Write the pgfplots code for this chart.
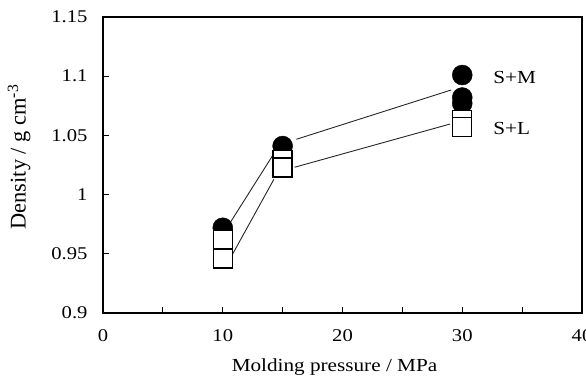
\documentclass[border=0pt]{standalone}
\usepackage{fontspec}
\setmainfont{Liberation Serif}[FakeStretch=1.15]
\newfontfamily\ylabfont{Liberation Serif}
\usepackage{pgfplots}
\pgfplotsset{compat=1.18}
\begin{document}
\begin{tikzpicture}[x=1bp,y=1bp]
\path[use as bounding box] (0,0) rectangle (586,377);
\begin{axis}[
  at={(103bp,64bp)}, anchor=south west,
  width=479bp, height=296bp, scale only axis,
  xmin=0, xmax=40, ymin=0.9, ymax=1.15,
  xtick={0,5,...,40}, xticklabels={0,,10,,20,,30,,40},
  ytick={0.9,0.95,1,1.05,1.1,1.15},
  yticklabels={0.9,0.95,1,1.05,1.1,1.15},
  tick pos=left, tick align=inside, major tick length=6bp,
  axis line style={line width=1.4bp},
  tick style={line width=1.2bp, black},
  ticklabel style={font=\fontsize{18}{20}\selectfont},
  xticklabel style={yshift=-13bp},
  yticklabel style={xshift=-12bp},
  xlabel={Molding pressure / MPa},
  xlabel style={font=\fontsize{18.5}{20}\selectfont, at={([xshift=-8bp,yshift=-58bp]rel axis cs:0.5,0)}, anchor=base},
  ylabel={Density / g cm\textsuperscript{-3}},
  ylabel style={font=\ylabfont\fontsize{22.5}{24}\selectfont, at={([xshift=-84bp,yshift=8bp]rel axis cs:0,0.5)}, anchor=center},
]
% connecting lines (segments between marker edges)
\addplot[black!85, line width=0.9bp] coordinates {(10.67,0.9771) (14.19,1.0334)};
\addplot[black!85, line width=0.9bp] coordinates {(16.14,1.0467) (29.06,1.0883)};
\addplot[black!85, line width=0.9bp] coordinates {(10.78,0.949) (14.27,1.0129)};
\addplot[black!85, line width=0.9bp] coordinates {(16.0,1.0231) (28.98,1.0596)};
% S+M
\addplot[only marks, mark=*, mark size=10bp, mark options={fill=black, draw=black}]
  coordinates {(10,0.972) (15,1.041) (30,1.101) (30,1.082) (30,1.077)};
% S+L
\addplot[only marks, mark=square*, mark size=9.5bp, mark options={fill=white, draw=black, line width=1.4bp}]
  coordinates {(10,0.962) (10,0.946) (15,1.029) (15,1.023) (30,1.063) (30,1.057)};
\node[anchor=west, font=\fontsize{18.5}{20}\selectfont] at (axis cs:32.3,1.099) {S+M};
\node[anchor=west, font=\fontsize{18.5}{20}\selectfont] at (axis cs:32.3,1.056) {S+L};
\end{axis}
\end{tikzpicture}
\end{document}
